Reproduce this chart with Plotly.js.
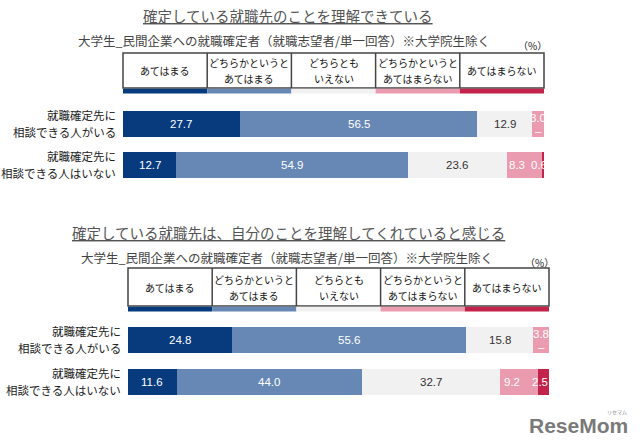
<!DOCTYPE html>
<html><head><meta charset="utf-8">
<script src="https://cdn.plot.ly/plotly-3.0.1.min.js"></script>
<style>html,body{margin:0;padding:0;background:#fff}#c{width:640px;height:448px}</style>
</head><body><div id="c"></div>
<script>
// ---- data ----
const categories = ['あてはまる', 'どちらかというと<br>あてはまる', 'どちらとも<br>いえない', 'どちらかというと<br>あてはまらない', 'あてはまらない'];
const rowLabels = ['就職確定先に<br>相談できる人がいる', '就職確定先に<br>相談できる人はいない'];
const title1 = '確定している就職先のことを理解できている';
const title2 = '確定している就職先は、自分のことを理解してくれていると感じる';
const subtitle = '大学生_民間企業への就職確定者（就職志望者/単一回答）※大学院生除く';
const unitLabel = '（%）';
// chart 1 values per row (categories order)
const q1RowWith = [27.7, 56.5, 12.9, 3.0, 0];
const q1RowWithout = [12.7, 54.9, 23.6, 8.3, 0.6];
// chart 2 values per row
const q2RowWith = [24.8, 55.6, 15.8, 3.8, 0];
const q2RowWithout = [11.6, 44.0, 32.7, 9.2, 2.5];

const colors = ['#073b7e', '#6788b5', '#f1f1f1', '#eb9bb0', '#c3234b'];
const textColors = ['#ffffff', '#ffffff', '#333333', '#ffffff', '#ffffff'];

const W = 640, H = 448;
const px = x => x / W;
const py = y => 1 - y / H;
const numFont = '"Liberation Sans", Arial, sans-serif';
const jpFont = '"Noto Sans CJK JP", "Noto Sans", sans-serif';

const rows1 = [q1RowWith, q1RowWithout];
const rows2 = [q2RowWith, q2RowWithout];

function buildTraces(rows, xa, ya) {
  return categories.map((cat, c) => ({
    type: 'bar', orientation: 'h',
    x: rows.map(r => r[c]), y: rowLabels,
    xaxis: xa, yaxis: ya,
    name: cat,
    marker: { color: colors[c], line: { width: 0 } },
    hoverinfo: 'skip', showlegend: false
  }));
}
const data = [...buildTraces(rows1, 'x', 'y'), ...buildTraces(rows2, 'x2', 'y2')];

const shapes = [], annotations = [];

// value labels placed at the middle of each stacked segment (data coordinates)
function valueLabels(rows, xa, ya) {
  rows.forEach((r, i) => {
    let cum = 0;
    const n = r.length;
    r.forEach((v, c) => {
      const start = cum; cum += v;
      const nextZero = c < n - 1 && r[c + 1] === 0;
      const base = { xref: xa, yref: ya, y: rowLabels[i], showarrow: false, yanchor: 'middle', font: { family: numFont, size: 11.5, color: textColors[c] } };
      if (v === 0) {
        annotations.push({ ...base, x: start - r[c - 1] / 2, text: '–', xanchor: 'center', yshift: -7, font: { ...base.font, color: textColors[c - 1] } });
        return;
      }
      const narrowLast = c === n - 1 && v < 4;
      const beforeNarrowLast = c === n - 2 && r[n - 1] > 0 && r[n - 1] < 4;
      const xs = narrowLast ? -4 : (beforeNarrowLast ? -7 : 0);
      annotations.push({ ...base, x: start + v / 2, xanchor: 'center', xshift: xs, text: v.toFixed(1), yshift: nextZero ? 6 : 0 });
    });
  });
}
valueLabels(rows1, 'x', 'y');
valueLabels(rows2, 'x2', 'y2');

// row labels (two lines, right aligned)
function rowText(xa, ya) {
  rowLabels.forEach(lab => {
    const parts = lab.split('<br>');
    parts.forEach((p, k) => annotations.push({ xref: xa + ' domain', yref: ya, x: 0, xshift: -5, y: lab, yshift: k === 0 ? 9 : -8, text: p, showarrow: false, xanchor: 'right', yanchor: 'middle', font: { family: jpFont, size: 11.5, color: '#222' } }));
  });
}
rowText('x', 'y');
rowText('x2', 'y2');

function legendBox(xref, top, bottom, strip) {
  shapes.push({ type: 'rect', xref: xref + ' domain', yref: 'paper', x0: 0, x1: 1, y0: py(bottom), y1: py(top), line: { color: '#444', width: 1.5 }, fillcolor: 'rgba(0,0,0,0)' });
  categories.forEach((cat, i) => {
    const a = i / categories.length, b = (i + 1) / categories.length;
    if (i > 0) shapes.push({ type: 'line', xref: xref + ' domain', yref: 'paper', x0: a, x1: a, y0: py(bottom), y1: py(top), line: { color: '#444', width: 1.5 } });
    shapes.push({ type: 'rect', xref: xref + ' domain', yref: 'paper', x0: a, x1: b, y0: py(bottom + strip), y1: py(bottom + 0.7), line: { width: 0 }, fillcolor: colors[i] });
    const parts = cat.split('<br>');
    parts.forEach((p, k) => {
      const off = parts.length === 1 ? 0 : (k === 0 ? 8 : -8);
      annotations.push({ xref: xref + ' domain', yref: 'paper', x: (a + b) / 2, y: py((top + bottom) / 2), yshift: off, text: p, showarrow: false, xanchor: 'center', yanchor: 'middle', font: { family: jpFont, size: 10, color: '#111' } });
    });
  });
}
legendBox('x', 53, 88, 5.5);
legendBox('x2', 268, 306, 5.5);

function txt(x, y, t, size, color, anchor) {
  annotations.push({ xref: 'paper', yref: 'paper', x: px(x), y: py(y), text: t, showarrow: false, xanchor: anchor || 'center', yanchor: 'middle', font: { family: jpFont, size: size, color: color } });
}
txt(288, 16, '<u>' + title1 + '</u>', 14.5, '#555');
txt(288, 232, '<u>' + title2 + '</u>', 14.5, '#555');
txt(76, 41, subtitle, 12.5, '#444', 'left');
txt(79, 257, subtitle, 12.5, '#444', 'left');
txt(532, 45, unitLabel, 10, '#222');
txt(539, 262, unitLabel, 10, '#222');
annotations.push({ xref: 'paper', yref: 'paper', x: px(578), y: py(425), text: '<b>ReseMom</b>', showarrow: false, xanchor: 'center', yanchor: 'middle', font: { family: numFont, size: 21, color: '#7a7a7a' } });
annotations.push({ xref: 'paper', yref: 'paper', x: px(617), y: py(412), text: 'リセマム', showarrow: false, xanchor: 'center', yanchor: 'middle', font: { family: jpFont, size: 5, color: '#888' } });

const axX = (d, anchor) => ({ domain: d, anchor: anchor, range: [0, 100], showgrid: false, zeroline: false, showticklabels: false, ticks: '', fixedrange: true });
const axY = (d, anchor) => ({ domain: d, anchor: anchor, type: 'category', autorange: 'reversed', showgrid: false, zeroline: false, showticklabels: false, ticks: '', fixedrange: true });

const layout = {
  width: W, height: H,
  margin: { l: 0, r: 0, t: 0, b: 0 },
  paper_bgcolor: '#fff', plot_bgcolor: 'rgba(0,0,0,0)',
  barmode: 'stack', bargap: 0.37,
  xaxis: axX([px(123), px(544)], 'y'),
  yaxis: axY([py(185.5), py(103.5)], 'x'),
  xaxis2: axX([px(128), px(549)], 'y2'),
  yaxis2: axY([py(402.5), py(319.5)], 'x2'),
  shapes, annotations, showlegend: false
};

Plotly.newPlot('c', data, layout, { displayModeBar: false, staticPlot: true });
</script></body></html>
